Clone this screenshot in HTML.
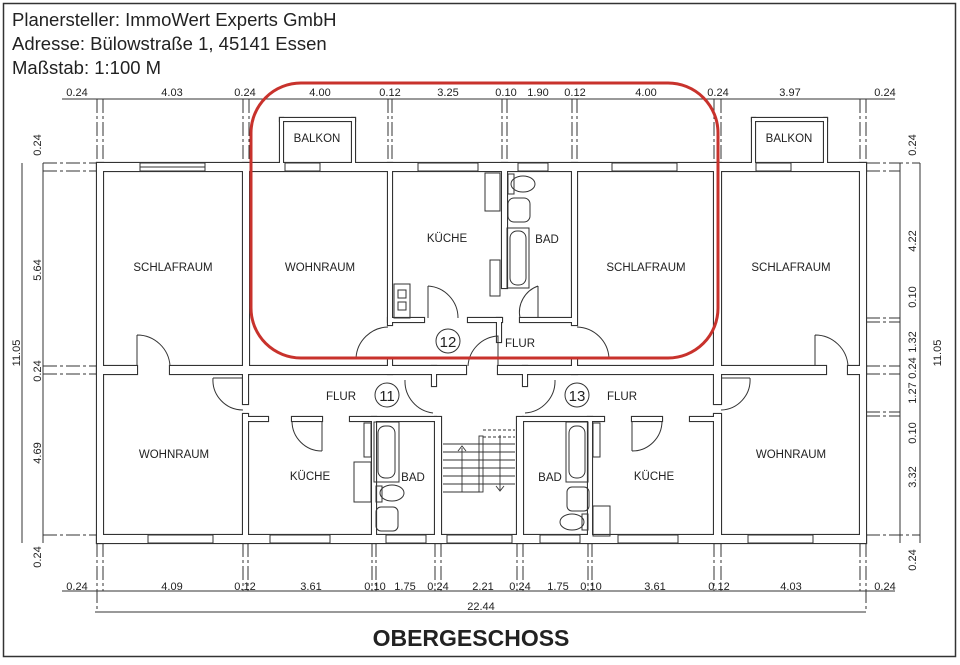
<!DOCTYPE html>
<html><head><meta charset="utf-8"><style>
html,body{margin:0;padding:0;background:#fff;}
svg{display:block;}
text{font-family:"Liberation Sans",sans-serif;fill:#222;}
</style></head><body>
<svg width="960" height="665" viewBox="0 0 960 665" xmlns="http://www.w3.org/2000/svg">
<defs>
<g id="w">
<rect x="97" y="163" width="769" height="8"/>
<rect x="97" y="535" width="769" height="8"/>
<rect x="97" y="366" width="40" height="8"/>
<rect x="170" y="366" width="296" height="8"/>
<rect x="498" y="366" width="328" height="8"/>
<rect x="848" y="366" width="18" height="8"/>
<rect x="97" y="163" width="6" height="380"/>
<rect x="860" y="163" width="6" height="380"/>
<rect x="243" y="163" width="6" height="211"/>
<rect x="388" y="163" width="4" height="162"/>
<rect x="388" y="358" width="4" height="16"/>
<rect x="502" y="163" width="5" height="125"/>
<rect x="572" y="163" width="5" height="162"/>
<rect x="572" y="358" width="5" height="16"/>
<rect x="714" y="163" width="7" height="211"/>
<rect x="388" y="318" width="36" height="4"/>
<rect x="468" y="318" width="34" height="4"/>
<rect x="520" y="318" width="52" height="4"/>
<rect x="497" y="318" width="4" height="24"/>
<rect x="243" y="374" width="5" height="30"/>
<rect x="243" y="414" width="5" height="129"/>
<rect x="714" y="374" width="7" height="30"/>
<rect x="714" y="414" width="7" height="129"/>
<rect x="248" y="417" width="20" height="4"/>
<rect x="292" y="417" width="30" height="4"/>
<rect x="350" y="417" width="86" height="4"/>
<rect x="523" y="417" width="81" height="4"/>
<rect x="632" y="417" width="30" height="4"/>
<rect x="690" y="417" width="24" height="4"/>
<rect x="372" y="417" width="4" height="126"/>
<rect x="588" y="417" width="4" height="126"/>
<rect x="435" y="417" width="6" height="126"/>
<rect x="517" y="417" width="6" height="126"/>
<rect x="432" y="366" width="4" height="20"/>
<rect x="523" y="366" width="4" height="20"/>
<rect x="280" y="118" width="3" height="50"/>
<rect x="352" y="118" width="3" height="50"/>
<rect x="280" y="118" width="75" height="3"/>
<rect x="752" y="118" width="3" height="50"/>
<rect x="824" y="118" width="3" height="50"/>
<rect x="752" y="118" width="75" height="3"/>
</g>
</defs>
<rect x="0" y="0" width="960" height="665" fill="#fff"/>
<rect x="3.5" y="3.5" width="952" height="653" fill="none" stroke="#333" stroke-width="1.5"/>
<text x="12" y="26" font-size="18.5">Planersteller: ImmoWert Experts GmbH</text>
<text x="12" y="50" font-size="18.5">Adresse: Bülowstraße 1, 45141 Essen</text>
<text x="12" y="74" font-size="18.5">Maßstab: 1:100 M</text>

<use href="#w" fill="#333" stroke="#333" stroke-width="2.2"/>
<use href="#w" fill="#fff" stroke="none"/>

<!-- windows -->
<g fill="none" stroke="#333" stroke-width="1">
<rect x="140" y="163" width="65" height="8"/><line x1="140" y1="167" x2="205" y2="167"/>
<rect x="285" y="163" width="35" height="8"/>
<rect x="418" y="163" width="60" height="8"/>
<rect x="518" y="163" width="30" height="8"/>
<rect x="612" y="163" width="65" height="8"/>
<rect x="756" y="163" width="35" height="8"/>
<rect x="148" y="535" width="65" height="8"/>
<rect x="270" y="535" width="60" height="8"/>
<rect x="386" y="535" width="40" height="8"/>
<rect x="447" y="535" width="65" height="8"/>
<rect x="540" y="535" width="40" height="8"/>
<rect x="618" y="535" width="60" height="8"/>
<rect x="748" y="535" width="65" height="8"/>
<!-- doors -->
<path d="M137 335 A33 33 0 0 1 170 366 M137 335 V366"/>
<path d="M815 335 A33 33 0 0 1 848 366 M815 335 V366"/>
<path d="M388 327 A33 33 0 0 0 356 358 H388"/>
<path d="M577 327 A33 33 0 0 1 609 358 H577"/>
<path d="M468 366 A32 32 0 0 1 498 336 V366"/>
<path d="M428 286 A32 32 0 0 1 458 318 M428 286 V318"/>
<path d="M538 286 A28 28 0 0 0 520 318 M538 286 V318"/>
<path d="M213 378 A30 30 0 0 0 243 410 M213 378 H243"/>
<path d="M750 378 A30 30 0 0 1 721 410 M750 378 H721"/>
<path d="M292 421 A30 30 0 0 0 322 451 M322 421 V451"/>
<path d="M662 421 A30 30 0 0 1 632 451 M632 421 V451"/>
<path d="M405 380 A32 32 0 0 0 433 413"/>
<path d="M555 380 A32 32 0 0 1 525 413"/>
<!-- stairs -->
<g stroke-width="0.9">
<line x1="443" y1="444" x2="515" y2="444"/><line x1="443" y1="452" x2="515" y2="452"/>
<line x1="443" y1="460" x2="515" y2="460"/><line x1="443" y1="468" x2="515" y2="468"/>
<line x1="443" y1="476" x2="515" y2="476"/><line x1="443" y1="484" x2="515" y2="484"/>
<line x1="443" y1="492" x2="480" y2="492"/>
<line x1="483" y1="430" x2="515" y2="430" stroke-dasharray="3 2"/><line x1="483" y1="437" x2="515" y2="437" stroke-dasharray="3 2"/>
<rect x="479" y="436" width="4" height="56"/>
<line x1="462" y1="448" x2="462" y2="492"/><path d="M458 451 L462 446 L466 451"/>
<line x1="500" y1="435" x2="500" y2="490"/><path d="M496 486 L500 491 L504 486"/>
</g>
<!-- fixtures top -->
<rect x="485" y="173" width="15" height="38"/>
<rect x="508" y="174" width="6" height="20"/><ellipse cx="523" cy="184" rx="12" ry="8"/>
<rect x="508" y="198" width="22" height="24" rx="6"/>
<rect x="507" y="228" width="22" height="60"/><rect x="510" y="231" width="16" height="54" rx="7"/>
<rect x="394" y="284" width="16" height="34"/><rect x="398" y="290" width="8" height="8"/><rect x="398" y="302" width="8" height="8"/>
<rect x="490" y="260" width="10" height="36"/>
<!-- fixtures bottom -->
<rect x="374" y="422" width="25" height="60"/><rect x="378" y="426" width="17" height="52" rx="7"/>
<ellipse cx="392" cy="493" rx="12" ry="8"/><rect x="376" y="486" width="6" height="16"/>
<rect x="376" y="507" width="22" height="24" rx="5"/>
<rect x="354" y="462" width="17" height="40"/>
<rect x="364" y="423" width="7" height="34"/>
<rect x="566" y="422" width="22" height="60"/><rect x="569" y="426" width="16" height="52" rx="7"/>
<rect x="567" y="487" width="22" height="24" rx="5"/>
<ellipse cx="572" cy="522" rx="12" ry="8"/><rect x="582" y="514" width="6" height="16"/>
<rect x="593" y="506" width="17" height="30"/>
<rect x="593" y="423" width="7" height="34"/>
</g>
<!-- circles -->
<g fill="none" stroke="#333" stroke-width="1"><circle cx="448" cy="341" r="12"/><circle cx="387" cy="395" r="12"/><circle cx="577" cy="395" r="12"/></g>
<g font-size="15" text-anchor="middle"><text x="448" y="347">12</text><text x="387" y="401">11</text><text x="577" y="401">13</text></g>
<!-- room labels -->
<g font-size="11.5" text-anchor="middle">
<text x="317" y="142">BALKON</text><text x="789" y="142">BALKON</text>
<text x="173" y="271">SCHLAFRAUM</text><text x="320" y="271">WOHNRAUM</text>
<text x="447" y="242">KÜCHE</text><text x="547" y="243">BAD</text>
<text x="646" y="271">SCHLAFRAUM</text><text x="791" y="271">SCHLAFRAUM</text>
<text x="520" y="347">FLUR</text><text x="341" y="400">FLUR</text><text x="622" y="400">FLUR</text>
<text x="174" y="458">WOHNRAUM</text><text x="310" y="480">KÜCHE</text><text x="413" y="481">BAD</text>
<text x="550" y="481">BAD</text><text x="654" y="480">KÜCHE</text><text x="791" y="458">WOHNRAUM</text>
</g>
<!-- dimension lines -->
<g stroke="#333" stroke-width="1" fill="none">
<line x1="62" y1="99" x2="895" y2="99"/>
<line x1="62" y1="591" x2="895" y2="591"/>
<line x1="95" y1="612" x2="866" y2="612"/>
<line x1="43" y1="163" x2="43" y2="543"/>
<line x1="22" y1="163" x2="22" y2="543"/>
<line x1="900" y1="163" x2="900" y2="543"/>
<line x1="920" y1="163" x2="920" y2="543"/>
<g stroke-dasharray="14 3 3 3">
<path d="M97 99V163M103 99V163M243 99V163M249 99V163M388 99V163M392 99V163M502 99V163M507 99V163M572 99V163M577 99V163M714 99V163M721 99V163M860 99V163M866 99V163"/>
<path d="M97 543V612M103 543V591M243 543V591M248 543V591M372 543V591M376 543V591M435 543V591M441 543V591M517 543V591M523 543V591M588 543V591M592 543V591M714 543V591M721 543V591M860 543V591M866 543V612"/>
<path d="M43 163H97M43 171H97M43 366H97M43 374H97M43 535H97M866 163H920M866 171H900M866 318H900M866 322H900M866 366H900M866 374H900M866 412H900M866 416H900M866 535H920"/>
</g>
</g>
<g font-size="11" text-anchor="middle">
<text x="77" y="96">0.24</text><text x="172" y="96">4.03</text><text x="245" y="96">0.24</text><text x="320" y="96">4.00</text><text x="390" y="96">0.12</text><text x="448" y="96">3.25</text><text x="506" y="96">0.10</text><text x="538" y="96">1.90</text><text x="575" y="96">0.12</text><text x="646" y="96">4.00</text><text x="718" y="96">0.24</text><text x="790" y="96">3.97</text><text x="885" y="96">0.24</text>
<text x="77" y="590">0.24</text><text x="172" y="590">4.09</text><text x="245" y="590">0.12</text><text x="311" y="590">3.61</text><text x="375" y="590">0.10</text><text x="405" y="590">1.75</text><text x="438" y="590">0.24</text><text x="483" y="590">2.21</text><text x="520" y="590">0.24</text><text x="558" y="590">1.75</text><text x="591" y="590">0.10</text><text x="655" y="590">3.61</text><text x="719" y="590">0.12</text><text x="791" y="590">4.03</text><text x="885" y="590">0.24</text>
<text x="481" y="610">22.44</text>
<text transform="translate(41,145) rotate(-90)">0.24</text><text transform="translate(41,270) rotate(-90)">5.64</text><text transform="translate(41,371) rotate(-90)">0.24</text><text transform="translate(41,453) rotate(-90)">4.69</text><text transform="translate(41,557) rotate(-90)">0.24</text><text transform="translate(20,353) rotate(-90)">11.05</text>
<text transform="translate(916,145) rotate(-90)">0.24</text><text transform="translate(916,241) rotate(-90)">4.22</text><text transform="translate(916,297) rotate(-90)">0.10</text><text transform="translate(916,342) rotate(-90)">1.32</text><text transform="translate(916,368) rotate(-90)">0.24</text><text transform="translate(916,393) rotate(-90)">1.27</text><text transform="translate(916,433) rotate(-90)">0.10</text><text transform="translate(916,477) rotate(-90)">3.32</text><text transform="translate(916,560) rotate(-90)">0.24</text><text transform="translate(941,353) rotate(-90)">11.05</text>
</g>
<text x="471" y="646" font-size="23" font-weight="bold" text-anchor="middle">OBERGESCHOSS</text>
<!-- red highlight -->
<rect x="251" y="83" width="467" height="275" rx="50" ry="50" fill="none" stroke="#c8322c" stroke-width="3"/>
</svg>
</body></html>
